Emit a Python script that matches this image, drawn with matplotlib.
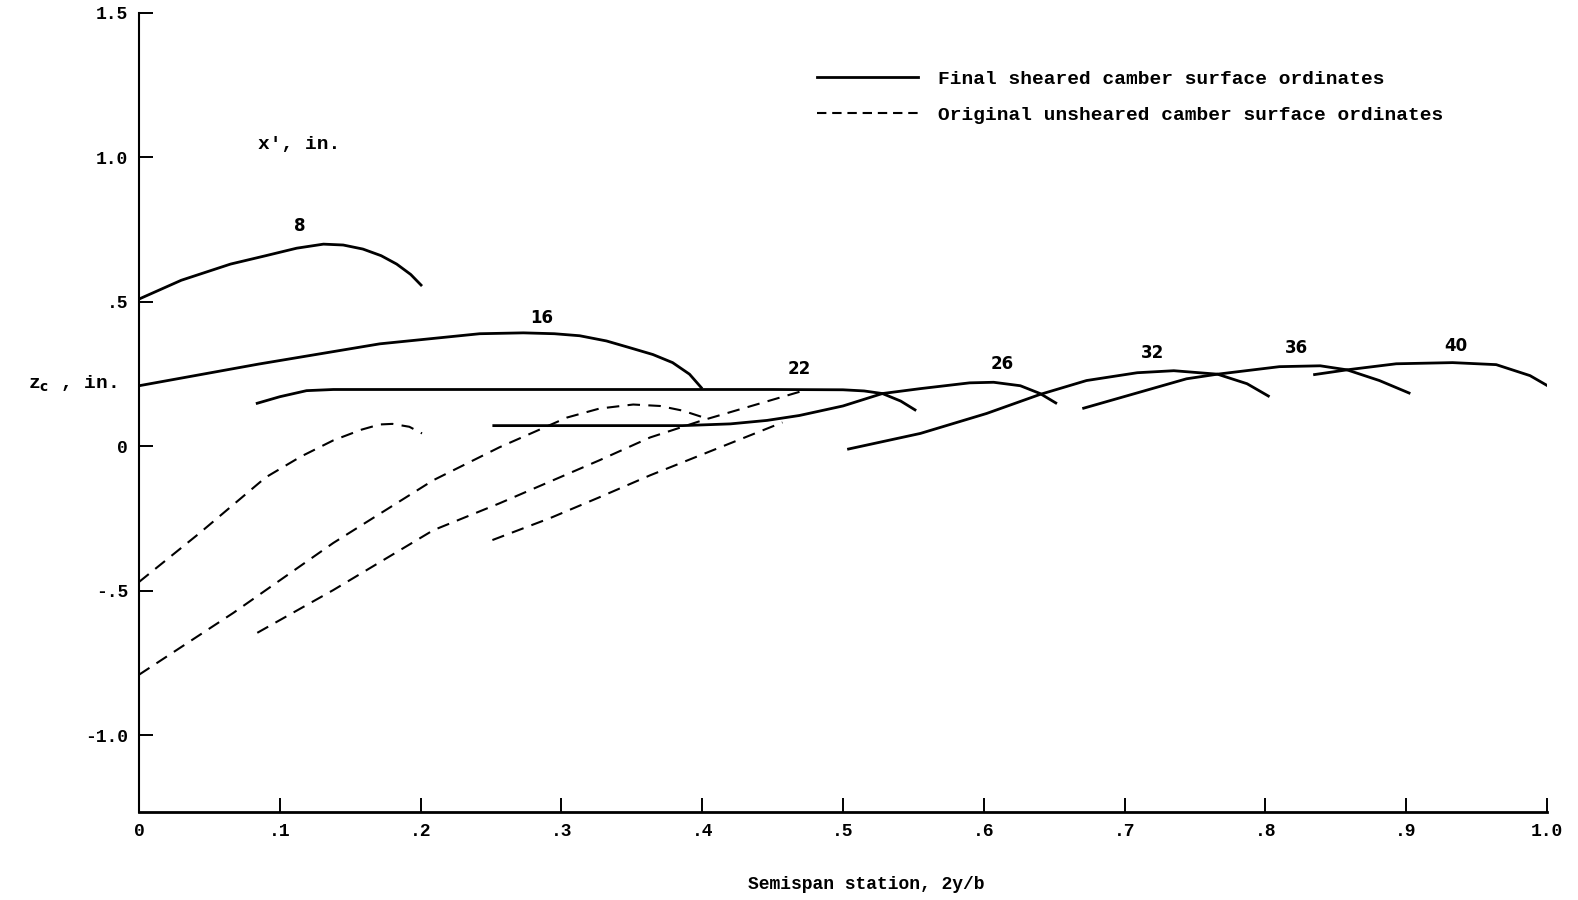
import matplotlib.pyplot as plt
from matplotlib.lines import Line2D

# Final sheared camber surface ordinates (solid), keyed by x' station
x8 = [0.0, 0.030, 0.065, 0.090, 0.112, 0.131, 0.145, 0.159, 0.172, 0.183, 0.193, 0.201]
z8 = [0.51, 0.575, 0.631, 0.660, 0.686, 0.700, 0.697, 0.683, 0.660, 0.631, 0.595, 0.555]

x16 = [0.0, 0.085, 0.171, 0.242, 0.273, 0.295, 0.313, 0.332, 0.349, 0.365, 0.379, 0.391, 0.400]
z16 = [0.21, 0.285, 0.355, 0.390, 0.393, 0.390, 0.383, 0.365, 0.341, 0.318, 0.290, 0.250, 0.200]

x22 = [0.083, 0.100, 0.119, 0.138, 0.30, 0.45, 0.50, 0.515, 0.528, 0.541, 0.552]
z22 = [0.148, 0.172, 0.193, 0.197, 0.197, 0.197, 0.196, 0.192, 0.183, 0.157, 0.124]

x26 = [0.251, 0.386, 0.420, 0.446, 0.469, 0.500, 0.528, 0.555, 0.590, 0.607, 0.626, 0.640, 0.652]
z26 = [0.072, 0.072, 0.078, 0.090, 0.107, 0.140, 0.183, 0.200, 0.220, 0.222, 0.210, 0.183, 0.148]

x32 = [0.503, 0.555, 0.602, 0.640, 0.673, 0.709, 0.735, 0.766, 0.787, 0.803]
z32 = [-0.01, 0.045, 0.114, 0.180, 0.228, 0.255, 0.262, 0.250, 0.217, 0.172]

x36 = [0.670, 0.744, 0.766, 0.810, 0.839, 0.858, 0.881, 0.903]
z36 = [0.131, 0.234, 0.250, 0.276, 0.279, 0.265, 0.228, 0.183]

x40 = [0.834, 0.858, 0.893, 0.933, 0.964, 0.988, 1.004]
z40 = [0.248, 0.265, 0.286, 0.290, 0.283, 0.245, 0.200]

# Original unsheared camber surface ordinates (dashed)
xo8 = [0.0, 0.043, 0.090, 0.115, 0.138, 0.158, 0.171, 0.180, 0.192, 0.201]
zo8 = [-0.469, -0.300, -0.107, -0.035, 0.021, 0.058, 0.076, 0.078, 0.068, 0.045]

xo16 = [0.0, 0.067, 0.138, 0.209, 0.256, 0.304, 0.327, 0.351, 0.370, 0.386, 0.403]
zo16 = [-0.79, -0.576, -0.334, -0.117, -0.003, 0.100, 0.131, 0.145, 0.140, 0.124, 0.097]

xo22 = [0.084, 0.138, 0.209, 0.256, 0.327, 0.363, 0.400, 0.472]
zo22 = [-0.645, -0.497, -0.290, -0.197, -0.048, 0.031, 0.090, 0.193]

xo26 = [0.251, 0.292, 0.327, 0.363, 0.457]
zo26 = [-0.324, -0.248, -0.176, -0.100, 0.083]

solid = [(x8, z8), (x16, z16), (x22, z22), (x26, z26), (x32, z32), (x36, z36), (x40, z40)]
dashed = [(xo8, zo8), (xo16, zo16), (xo22, zo22), (xo26, zo26)]

# curve labels (x' stations) and where they sit
labels = ['8', '16', '22', '26', '32', '36', '40']
label_x = [0.114, 0.286, 0.469, 0.613, 0.720, 0.822, 0.935]
label_y = [0.762, 0.445, 0.267, 0.286, 0.324, 0.341, 0.348]

xticks = [0, 0.1, 0.2, 0.3, 0.4, 0.5, 0.6, 0.7, 0.8, 0.9, 1.0]
xticklabels = ['0', '.1', '.2', '.3', '.4', '.5', '.6', '.7', '.8', '.9', '1.0']
yticks = [-1.0, -0.5, 0, 0.5, 1.0, 1.5]
yticklabels = ['-1.0', '-.5', '0', '.5', '1.0', '1.5']

legend_labels = ['Final sheared camber surface ordinates',
                 'Original unsheared camber surface ordinates']

mono = 'Liberation Mono'

fig = plt.figure(figsize=(15.78, 9.0), dpi=100)
ax = fig.add_axes([0.0881, 0.0978, 0.8922, 0.8878])

for xs, zs in solid:
    ax.plot(xs, zs, color='black', lw=2.0, solid_capstyle='butt', solid_joinstyle='round')
for xs, zs in dashed:
    ax.plot(xs, zs, color='black', lw=1.5, linestyle=(0, (6, 4)))

for t, lx, ly in zip(labels, label_x, label_y):
    ax.text(lx, ly, t, ha='center', va='center', fontsize=12, fontweight='bold',
            family='DejaVu Sans')

ax.text(0.114, 1.045, "x', in.", ha='center', va='center', fontsize=14,
        fontweight='bold', family=mono)
fig.text(0.018, 0.573, r"z$_\mathbf{c}$ , in.", ha='left', va='center', fontsize=14,
         fontweight='bold', family=mono)
fig.text(0.549, 0.017, 'Semispan station, 2y/b', ha='center', va='center', fontsize=13,
         fontweight='bold', family=mono)

ax.set_xlim(0, 1.0)
ax.set_ylim(-1.265, 1.5)
ax.set_xticks(xticks)
ax.set_xticklabels(xticklabels)
ax.set_yticks(yticks)
ax.set_yticklabels(yticklabels)
for lab in ax.get_xticklabels() + ax.get_yticklabels():
    lab.set_family(mono)
    lab.set_fontweight('bold')
    lab.set_fontsize(13)
ax.tick_params(direction='in', length=10, width=1.4, pad=8)
ax.spines['top'].set_visible(False)
ax.spines['right'].set_visible(False)
ax.spines['left'].set_linewidth(1.5)
ax.spines['bottom'].set_linewidth(2.0)

handles = [Line2D([], [], color='black', lw=2.0),
           Line2D([], [], color='black', lw=1.5, linestyle=(0, (4.5, 2.8)))]
ax.legend(handles, legend_labels, loc='upper left',
          bbox_to_anchor=(817 / 1578, 1 - 70 / 900),
          bbox_transform=fig.transFigure, frameon=False, borderpad=0,
          borderaxespad=0, handlelength=5.2, handletextpad=1.0,
          labelspacing=0.95, prop={'family': mono, 'weight': 'bold', 'size': 14})

fig.savefig('out.png', dpi=100)
